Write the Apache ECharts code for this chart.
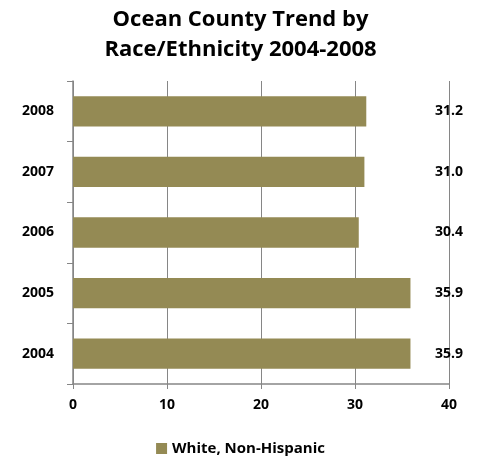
<!DOCTYPE html>
<html><head><meta charset="utf-8">
<script src="https://cdn.jsdelivr.net/npm/echarts@6/dist/echarts.min.js"></script>
<style>html,body{margin:0;padding:0;background:#fff}#c{width:481px;height:461px}</style>
</head><body><div id="c"></div>
<script>
const categories = ['2004', '2005', '2006', '2007', '2008'];
const values = [35.9, 35.9, 30.4, 31.0, 31.2];
const seriesName = 'White, Non-Hispanic';
const xTicks = [0, 10, 20, 30, 40];
const titleText = 'Ocean County Trend by\nRace/Ethnicity 2004-2008';

const font = '"Open Sans", Lato, sans-serif';
const chart = echarts.init(document.getElementById('c'));
chart.setOption({
  animation: false,
  title: {
    text: titleText, left: 'center', top: 0,
    textStyle: {fontFamily: font, fontWeight: 'bold', fontSize: 22, lineHeight: 30, color: '#000'}
  },
  legend: {
    bottom: 0, left: 'center', itemWidth: 11, itemHeight: 11, itemGap: 3,
    icon: 'rect',
    textStyle: {fontFamily: font, fontWeight: 'bold', fontSize: 15, color: '#000'},
    data: [seriesName]
  },
  grid: {left: 73, right: 32, top: 81, bottom: 77, containLabel: false},
  xAxis: {
    type: 'value', min: xTicks[0], max: xTicks[xTicks.length - 1], interval: 10,
    axisLine: {show: true, lineStyle: {color: '#868686', width: 1.5}},
    axisTick: {show: true, length: 5, lineStyle: {color: '#868686'}},
    splitLine: {show: true, lineStyle: {color: '#868686', width: 1}},
    axisLabel: {fontFamily: font, fontWeight: 'bold', fontSize: 14, color: '#000', margin: 14}
  },
  yAxis: [{
    type: 'category', data: categories,
    axisLine: {show: true, lineStyle: {color: '#868686', width: 1.5}},
    axisTick: {show: true, length: 6, lineStyle: {color: '#868686'}},
    axisLabel: {fontFamily: font, fontWeight: 'bold', fontSize: 14, color: '#000', margin: 19}
  }, {
    type: 'category', data: categories, position: 'right',
    axisLine: {show: false}, axisTick: {show: false},
    axisLabel: {
      fontFamily: font, fontWeight: 'bold', fontSize: 14, color: '#000', margin: 0, align: 'center',
      formatter: (v, i) => values[i].toFixed(1)
    }
  }],
  series: [{
    name: seriesName, type: 'bar', data: values, barCategoryGap: '50%',
    itemStyle: {color: '#948A54'}
  }]
});
</script></body></html>
